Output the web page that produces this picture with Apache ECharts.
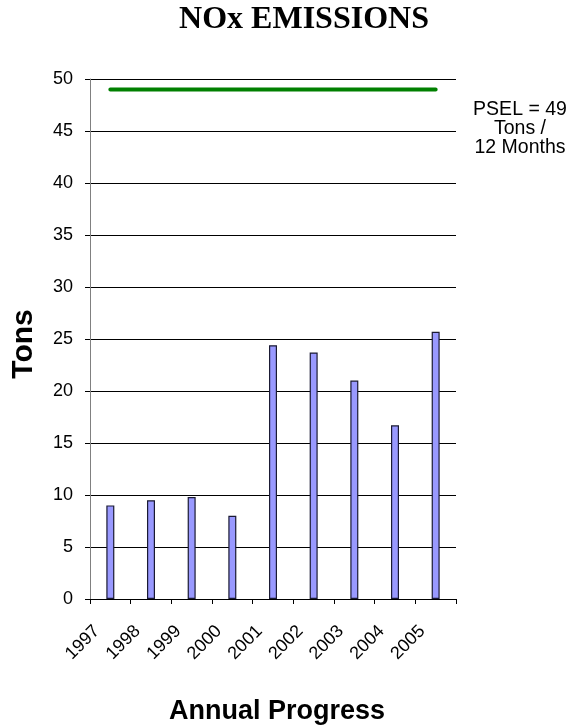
<!DOCTYPE html>
<html>
<head>
<meta charset="utf-8">
<script src="https://cdn.jsdelivr.net/npm/echarts@6/dist/echarts.min.js"></script>
<style>
  html, body { margin: 0; padding: 0; background: #fff; }
  #chart { width: 572px; height: 726px; }
</style>
</head>
<body>
<div id="chart"></div>
<script>
// Annual NOx emissions (tons) against the permitted limit
const years = ['1997', '1998', '1999', '2000', '2001', '2002', '2003', '2004', '2005'];
const emissions = [9.0, 9.5, 9.8, 8.0, 24.4, 23.7, 21.0, 16.7, 25.7];
const pselLimit = [49, 49, 49, 49, 49, 49, 49, 49, 49];
const yTicks = { min: 0, max: 50, interval: 5 };

const chart = echarts.init(document.getElementById('chart'), null, { renderer: 'canvas' });

chart.setOption({
  backgroundColor: '#ffffff',
  animation: false,
  title: [
    {
      text: 'NOx EMISSIONS',
      left: 299,
      top: -1,
      textAlign: 'center',
      textStyle: { fontFamily: 'Liberation Serif', fontWeight: 'bold', fontSize: 32, color: '#000' }
    },
    {
      text: 'PSEL = 49\nTons /\n12 Months',
      left: 515,
      top: 95,
      textAlign: 'center',
      textStyle: { fontFamily: 'Liberation Sans', fontWeight: 'normal', fontSize: 19.5, lineHeight: 19, color: '#000' }
    },
    {
      text: 'Annual Progress',
      left: 272,
      top: 693,
      textAlign: 'center',
      textStyle: { fontFamily: 'Liberation Sans', fontWeight: 'bold', fontSize: 27, color: '#000' }
    }
  ],
  graphic: [
    {
      type: 'text',
      x: 24,
      y: 344,
      rotation: Math.PI / 2,
      style: {
        text: 'Tons',
        align: 'center',
        verticalAlign: 'middle',
        font: 'bold 30px "Liberation Sans"',
        fill: '#000'
      }
    }
  ],
  grid: { left: 90, top: 79, width: 366, height: 520, containLabel: false },
  xAxis: {
    type: 'category',
    data: years,
    boundaryGap: true,
    axisLine: { show: true, lineStyle: { color: '#000', width: 1 } },
    axisTick: { show: true, length: 5, alignWithLabel: false, lineStyle: { color: '#000' } },
    axisLabel: {
      rotate: 45,
      interval: 0,
      margin: 16,
      padding: [0, 19, 0, 0],
      fontFamily: 'Liberation Sans',
      fontSize: 18,
      color: '#000'
    },
    splitLine: { show: false }
  },
  yAxis: {
    type: 'value',
    min: yTicks.min,
    max: yTicks.max,
    interval: yTicks.interval,
    axisLine: { show: true, lineStyle: { color: '#808080', width: 1 } },
    axisTick: { show: true, length: 5, inside: false, lineStyle: { color: '#000' } },
    axisLabel: { margin: 17, fontFamily: 'Liberation Sans', fontSize: 18, color: '#000' },
    splitLine: { show: true, lineStyle: { color: '#000', width: 1 } }
  },
  series: [
    {
      name: 'Emissions',
      type: 'bar',
      data: emissions,
      barWidth: 8,
      itemStyle: { color: '#9999ff', borderColor: '#1a1a33', borderWidth: 1.2 }
    },
    {
      name: 'PSEL',
      type: 'line',
      data: pselLimit,
      symbol: 'none',
      lineStyle: { color: '#008000', width: 4, cap: 'round' },
      z: 3
    }
  ]
});
</script>
</body>
</html>
